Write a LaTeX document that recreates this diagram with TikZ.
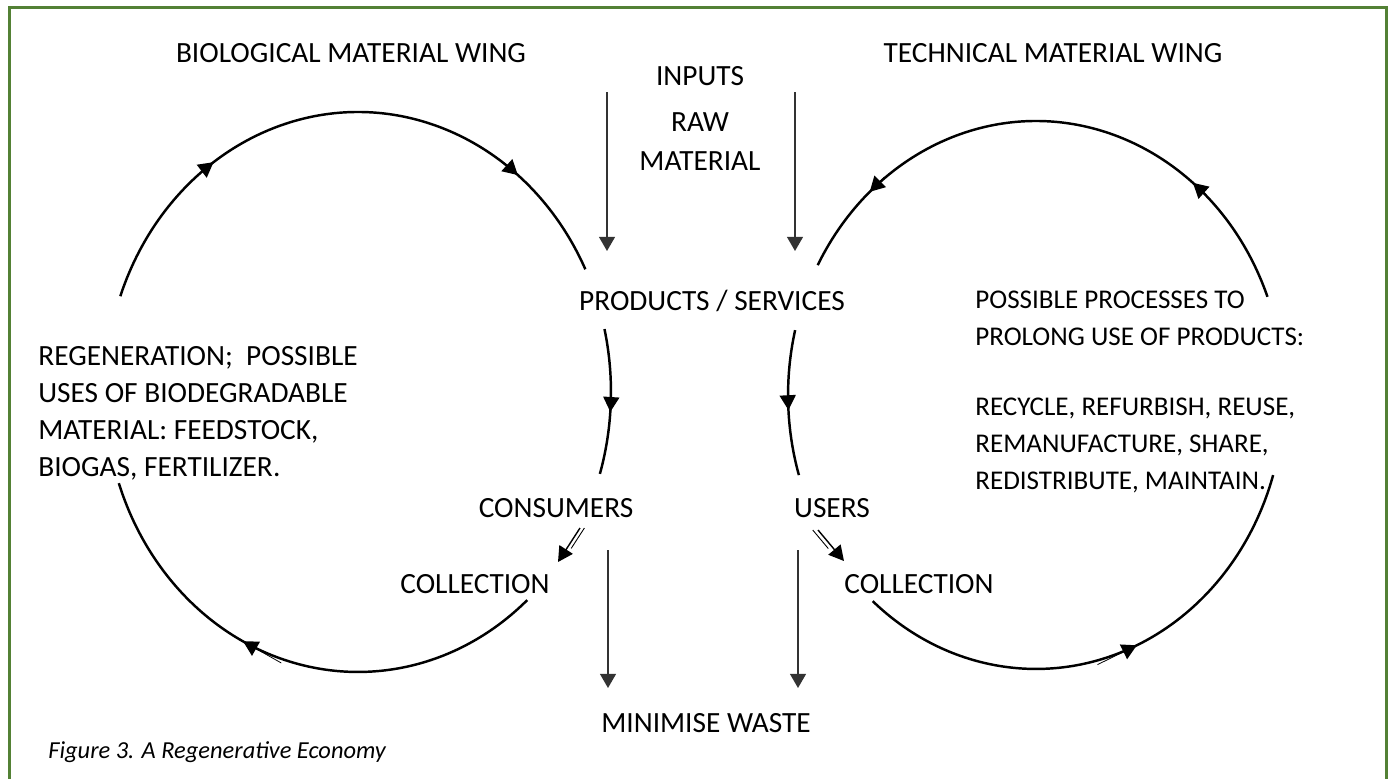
\documentclass[tikz,border=0pt]{standalone}
\usepackage{fontspec}
\setmainfont{Carlito}
\usetikzlibrary{arrows.meta,decorations.markings,calc}
\definecolor{wingframe}{HTML}{538135}
\tikzset{
  txt/.style={inner sep=0mm, font=\fontsize{16.7}{21}\selectfont},
  small/.style={inner sep=0mm, font=\fontsize{15.4}{21}\selectfont},
  feed/.style={line width=0.9pt, draw=black!80, -{Triangle[length=8pt,width=9pt]}},
  loop/.style={line width=1.4pt},
  % arrow head on a loop, with a thin tangent stroke trailing it
  tip/.style 2 args={postaction={decorate, decoration={markings,
      mark=at position #1 with {\arrow{Triangle[length=8.5pt,width=9pt]}
        \draw[line width=0.45pt] (-#2,0) -- (0,0);}}}}
}

\begin{document}
\begin{tikzpicture}[x=0.02cm, y=-0.02cm]
  \useasboundingbox (0,0) rectangle (1391,778);
  \draw[wingframe, line width=1.7pt] (9.5,7.5) rectangle (1386.5,830);

  % headings and labels
  \node[txt, anchor=base] (bioWing) at (351,62) {BIOLOGICAL MATERIAL WING};
  \node[txt, anchor=base] (techWing) at (1053,62) {TECHNICAL MATERIAL WING};
  \node[txt, anchor=base] (inputs) at (700,85) {INPUTS};
  \node[txt, anchor=north, align=center] (raw) at (700,112) {RAW\\[1.5pt]MATERIAL};
  \node[txt, anchor=base] (products) at (712,310) {PRODUCTS / SERVICES};
  \node[txt, anchor=base] (consumers) at (556,517) {CONSUMERS};
  \node[txt, anchor=base] (users) at (832,517) {USERS};
  \node[txt, anchor=base] (bioCollect) at (475,593) {COLLECTION};
  \node[txt, anchor=base] (techCollect) at (919,593) {COLLECTION};
  \node[txt, anchor=base] (waste) at (706,732) {MINIMISE WASTE};

  \node[txt, anchor=north west, align=left] (bioText) at (38,346)
    {REGENERATION;\ \ POSSIBLE\\USES OF BIODEGRADABLE\\MATERIAL: FEEDSTOCK,\\BIOGAS, FERTILIZER.};
  \node[small, anchor=north west, align=left] (techHead) at (975,291)
    {POSSIBLE PROCESSES TO\\PROLONG USE OF PRODUCTS:};
  \node[small, anchor=north west, align=left] (techList) at (975,398)
    {RECYCLE, REFURBISH, REUSE,\\REMANUFACTURE, SHARE,\\REDISTRIBUTE, MAINTAIN.};

  \node[inner sep=0mm, anchor=base west, font=\fontsize{13.9}{17}\selectfont\itshape]
    (caption) at (48,758) {Figure 3. A Regenerative Economy};

  % straight feeds
  \coordinate (inBioTop) at (607,92);   \coordinate (inBioEnd) at (607,251);
  \coordinate (inTechTop) at (795,92);  \coordinate (inTechEnd) at (795,251);
  \coordinate (outBioTop) at (608,550); \coordinate (outBioEnd) at (608,688);
  \coordinate (outTechTop) at (798,550); \coordinate (outTechEnd) at (798,688);
  \draw[feed] (inBioTop) -- (inBioEnd);
  \draw[feed] (inTechTop) -- (inTechEnd);
  \draw[feed] (outBioTop) -- (outBioEnd);
  \draw[feed] (outTechTop) -- (outTechEnd);

  % biological loop
  \coordinate (bioC) at (358,392);
  \path (bioC) ++(160:5.06cm and 5.6cm) coordinate (b1)
        (bioC) ++(13:5.06cm and 5.6cm) coordinate (b2)
        (bioC) ++(-48:5.06cm and 5.6cm) coordinate (b3);
  \draw[loop, tip={0.27}{9pt}, tip={0.81}{7pt}] (b1) arc[start angle=160, end angle=26, x radius=5.06cm, y radius=5.6cm];
  \draw[loop, tip={0.57}{0pt}] (b2) arc[start angle=13, end angle=-17, x radius=5.06cm, y radius=5.6cm];
  \draw[loop, tip={0.6}{25pt}] (b3) arc[start angle=-48, end angle=-161, x radius=5.06cm, y radius=5.6cm];

  % technical loop
  \coordinate (techC) at (1036,395);
  \path (techC) ++(21:4.96cm and 5.48cm) coordinate (t1)
        (techC) ++(166.3:4.96cm and 5.48cm) coordinate (t2)
        (techC) ++(228.8:4.96cm and 5.48cm) coordinate (t3);
  \draw[loop, tip={0.235}{10pt}, tip={0.846}{12pt}] (t1) arc[start angle=21, end angle=151.7, x radius=4.96cm, y radius=5.48cm];
  \draw[loop, tip={0.55}{0pt}] (t2) arc[start angle=166.3, end angle=197, x radius=4.96cm, y radius=5.48cm];
  \draw[loop, tip={0.56}{25pt}] (t3) arc[start angle=228.8, end angle=343, x radius=4.96cm, y radius=5.48cm];

  % hand-over to collection
  \coordinate (cs1) at (580,528); \coordinate (cs2) at (558,562);
  \coordinate (us1) at (818,530); \coordinate (us2) at (844,561);
  \draw[line width=0.8pt, -{Triangle[length=8.5pt,width=9pt]}] (cs1) -- (cs2);
  \draw[line width=0.5pt] ([xshift=2.5]cs1) -- ([xshift=2.5]$(cs1)!0.6!(cs2)$);
  \draw[line width=0.8pt, -{Triangle[length=8.5pt,width=9pt]}] (us1) -- (us2);
  \draw[line width=0.5pt] ([xshift=-3]us1) -- ([xshift=-3]$(us1)!0.6!(us2)$);
\end{tikzpicture}
\end{document}
